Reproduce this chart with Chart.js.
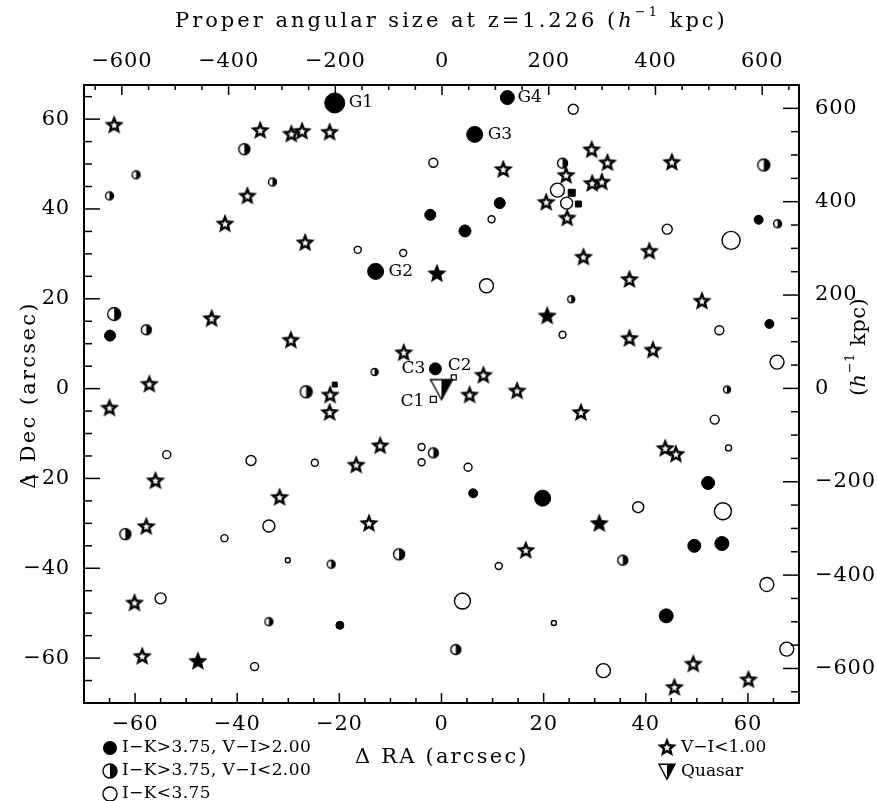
<!DOCTYPE html>
<html>
<head>
<meta charset="utf-8">
<script src="https://cdn.jsdelivr.net/npm/chart.js@4.4.0/dist/chart.umd.min.js"></script>
<style>
  body { margin: 0; background: #fff; }
  #wrap { width: 877px; height: 801px; }
</style>
</head>
<body>
<div id="wrap"><canvas id="graph"></canvas></div>
<script>
// I-K>3.75, V-I>2.00 (filled circles), diameters in px
var fillX = [-20.9, 12.9, 6.5, -12.9, -1.2, 11.4, -2.2, 4.6, -64.9, 62.1, 64.2, 6.2, 19.8, -19.9, 52.2, 49.5, 54.9, 44.0];
var fillY = [63.6, 64.8, 56.6, 26.1, 4.4, 41.3, 38.7, 35.1, 11.8, 37.6, 14.4, -23.3, -24.4, -52.7, -21.0, -35.0, -34.5, -50.6];
var fillD = [20, 14, 16, 16, 12, 11, 11, 12, 11, 9, 9, 9, 16, 8, 13, 13, 14, 14];

// I-K>3.75, V-I<2.00 (half filled)
var halfX = [-38.6, -59.8, -33.1, -65.0, -64.1, -57.8, -26.5, 23.7, 25.4, -13.1, 63.1, 65.8, 55.9, -1.6, -61.9, -21.6, -8.3, -33.8, 2.8, 35.5];
var halfY = [53.3, 47.6, 46.0, 42.9, 16.6, 13.1, -0.7, 50.2, 19.9, 3.7, 49.8, 36.7, -0.2, -14.3, -32.4, -39.1, -36.9, -51.9, -58.1, -38.2];
var halfD = [11, 8, 8, 8, 13, 10, 12, 10, 7, 7, 12, 8, 7, 10, 11, 8, 11, 8, 10, 10];

// I-K<3.75 (open circles)
var openX = [-1.6, 22.7, 24.5, 9.8, -16.4, -7.5, 8.8, 23.7, 25.8, 44.2, 56.7, 54.4, 65.7, -53.8, -37.3, -24.8, -33.8, -42.5, -30.1, -55.0, -36.6, -3.9, -3.9, 5.2, 11.2, 4.1, 22.0, 53.5, 56.2, 55.1, 38.5, 63.7, 67.6, 31.7];
var openY = [50.3, 44.2, 41.3, 37.7, 30.9, 30.2, 22.9, 12.0, 62.2, 35.5, 33.0, 13.0, 5.9, -14.7, -16.0, -16.5, -30.6, -33.3, -38.2, -46.7, -61.9, -13.0, -16.4, -17.5, -39.5, -47.3, -52.2, -6.9, -13.2, -27.3, -26.4, -43.6, -58.0, -62.8];
var openD = [9, 14, 12, 7, 7, 7, 14, 7, 10, 10, 18, 9, 14, 8, 10, 7, 12, 7, 5, 11, 8, 7, 7, 8, 7, 16, 5, 9, 6, 17, 11, 14, 14, 14];

// V-I<1.00 (stars)
var starX = [-64.1, -35.5, -29.4, -27.3, -21.9, -38.0, -42.4, -26.7, -45.0, -29.5, -57.2, -65.0, 12.1, 24.4, 20.5, 24.6, -7.4, 8.2, -21.8, -21.9, 5.5, 14.8, 29.4, 32.5, 45.1, 29.5, 31.4, 27.8, 40.7, 36.8, 51.0, 36.8, 41.4, -56.0, -31.7, -57.8, -60.1, -58.6, -12.0, -16.7, -14.2, 16.5, 27.3, 43.8, 45.9, 49.3, 45.6, 60.1];
var starY = [58.8, 57.6, 56.8, 57.4, 57.2, 43.0, 36.8, 32.6, 15.7, 10.9, 1.1, -4.2, 48.9, 47.6, 41.6, 38.1, 8.1, 3.1, -1.3, -5.2, -1.3, -0.4, 53.3, 50.4, 50.5, 45.8, 46.1, 29.4, 30.7, 24.4, 19.6, 11.3, 8.7, -20.4, -24.1, -30.6, -47.6, -59.5, -12.6, -16.9, -29.9, -35.9, -5.2, -13.2, -14.5, -61.2, -66.4, -64.7];
var fstarX = [-0.9, 20.7, -47.7, 30.9];
var fstarY = [25.7, 16.3, -60.6, -29.9];

// quasar and small squares
var qsoX = [0], qsoY = [0];
var sqX = [-1.6, 2.4], sqY = [-2.4, 2.5], sqS = [6, 5];
var fsqX = [25.5, 26.8, -20.9], fsqY = [43.6, 41.1, 0.9], fsqS = [7, 6, 5];

// object names: [text, set, index, dx, dy, align]
var names = [['G1', 'f', 0, 14, 0, 'left'], ['G4', 'f', 1, 10, 0, 'left'], ['G3', 'f', 2, 13, 0, 'left'],
             ['G2', 'f', 3, 13, 0, 'left'], ['C3', 'f', 4, -10, 0, 'right'], ['C2', 's', 1, -6, -12, 'left'],
             ['C1', 's', 0, -9, 2, 'right']];

var F = 'DejaVu Serif';

function mk(w, h, f) {
  var cv = document.createElement('canvas');
  cv.width = w; cv.height = h;
  f(cv.getContext('2d'));
  return cv;
}
function halfDraw(g, cx, cy, r) {
  g.beginPath(); g.arc(cx, cy, r, 0, 2 * Math.PI); g.fillStyle = '#fff'; g.fill();
  g.beginPath(); g.arc(cx, cy, r, -Math.PI / 2, Math.PI / 2); g.closePath(); g.fillStyle = '#000'; g.fill();
  g.beginPath(); g.arc(cx, cy, r, 0, 2 * Math.PI); g.lineWidth = 1.4; g.strokeStyle = '#000'; g.stroke();
}
function halfImg(d) {
  var s = Math.ceil(d) + 5;
  return mk(s, s, function(g) { halfDraw(g, s / 2, s / 2, d / 2); });
}
function starPath(g, cx, cy, R, r) {
  g.beginPath();
  for (var i = 0; i < 10; i++) {
    var a = -Math.PI / 2 + i * Math.PI / 5, rr = i % 2 ? r : R;
    g.lineTo(cx + rr * Math.cos(a), cy + rr * Math.sin(a));
  }
  g.closePath();
}
function starDraw(g, cx, cy, filled) {
  starPath(g, cx, cy + 0.8, 7, 3.1);
  g.fillStyle = filled ? '#000' : '#fff';
  g.fill();
  g.lineWidth = 2.4; g.lineJoin = 'miter'; g.strokeStyle = '#000';
  g.stroke();
}
function triDraw(g, cx, cy, w, h) {
  var t = cy - h * 0.45, b = cy + h * 0.55;
  g.beginPath(); g.moveTo(cx - w / 2, t); g.lineTo(cx + w / 2, t); g.lineTo(cx, b); g.closePath();
  g.fillStyle = '#fff'; g.fill();
  g.beginPath(); g.moveTo(cx, t); g.lineTo(cx + w / 2, t); g.lineTo(cx, b); g.closePath();
  g.fillStyle = '#000'; g.fill();
  g.beginPath(); g.moveTo(cx - w / 2, t); g.lineTo(cx + w / 2, t); g.lineTo(cx, b); g.closePath();
  g.lineWidth = 1.4; g.strokeStyle = '#000'; g.stroke();
}
var openStar = mk(22, 22, function(g) { starDraw(g, 11, 11, false); });
var fullStar = mk(22, 22, function(g) { starDraw(g, 11, 11, true); });
var qsoImg = mk(28, 26, function(g) { triDraw(g, 14, 13, 22, 20); });

function pts(xs, ys) { return xs.map(function(x, i) { return {x: x, y: ys[i]}; }); }

var majorEvery = {x: 20, y: 20, x2: 200, y2: 200};
var tickLen = {x: [10, 5], x2: [10, 5], y: [16, 8], y2: [16, 8]};

// wider glyph spacing for the tick labels, like the original plot font
var spacing = {
  id: 'spacing',
  beforeDraw: function(chart) { chart.ctx.letterSpacing = '0.8px'; }
};

var inTicks = {
  id: 'inTicks',
  afterDraw: function(chart) {
    var c = chart.ctx, a = chart.chartArea;
    c.save();
    c.strokeStyle = '#000';
    c.lineWidth = 1.5;
    Object.keys(majorEvery).forEach(function(id) {
      var s = chart.scales[id];
      s.ticks.forEach(function(t) {
        var v = t.value, p = s.getPixelForValue(v);
        var m = Math.abs(v / majorEvery[id] - Math.round(v / majorEvery[id])) < 1e-6;
        var L = m ? tickLen[id][0] : tickLen[id][1];
        c.beginPath();
        if (id === 'x') { c.moveTo(p, a.bottom); c.lineTo(p, a.bottom - L); }
        if (id === 'x2') { c.moveTo(p, a.top); c.lineTo(p, a.top + L); }
        if (id === 'y') { c.moveTo(a.left, p); c.lineTo(a.left + L, p); }
        if (id === 'y2') { c.moveTo(a.right, p); c.lineTo(a.right - L, p); }
        c.stroke();
      });
    });
    c.restore();
  }
};

function rich(c, segs, x, y, align, ls) {
  c.letterSpacing = (ls || 0) + 'px';
  var w = 0;
  segs.forEach(function(s) { c.font = s[1]; w += c.measureText(s[0]).width; });
  var cx = align === 'center' ? x - w / 2 : x;
  segs.forEach(function(s) {
    c.font = s[1];
    c.fillText(s[0], cx, y + (s[2] || 0));
    cx += c.measureText(s[0]).width;
  });
}

var texts = {
  id: 'texts',
  afterDraw: function(chart) {
    var c = chart.ctx, sx = chart.scales.x, sy = chart.scales.y;
    var f21 = '21px ' + F, fi = 'italic 21px ' + F, fs = '13px ' + F;
    c.save();
    c.fillStyle = '#000';
    c.textBaseline = 'middle';
    c.textAlign = 'left';
    rich(c, [['Proper angular size at z=1.226 (', f21], ['h', fi], ['\u22121', fs, -9], [' kpc)', f21]], 175, 22, 'left', 3);
    rich(c, [['\u0394 RA (arcsec)', f21]], 355, 758, 'left', 2.2);

    c.save(); c.translate(30, 395); c.rotate(-Math.PI / 2);
    rich(c, [['\u0394 Dec (arcsec)', f21]], 0, 0, 'center', 2.3);
    c.restore();
    c.save(); c.translate(860, 347); c.rotate(-Math.PI / 2);
    rich(c, [['(', f21], ['h', fi], ['\u22121', fs, -9], [' kpc)', f21]], 0, 0, 'center', 0.5);
    c.restore();

    // object names
    c.letterSpacing = '0px';
    c.font = '17px ' + F;
    names.forEach(function(n) {
      var px = n[1] === 'f' ? fillX[n[2]] : sqX[n[2]];
      var py = n[1] === 'f' ? fillY[n[2]] : sqY[n[2]];
      c.textAlign = n[5];
      c.fillText(n[0], sx.getPixelForValue(px) + n[3], sy.getPixelForValue(py) + n[4]);
    });

    // key
    c.textAlign = 'left';
    c.letterSpacing = '0.4px';
    c.font = '17px ' + F;
    c.beginPath(); c.arc(110, 748, 7, 0, 2 * Math.PI); c.fill();
    c.fillText('I\u2212K>3.75, V\u2212I>2.00', 122, 748);
    halfDraw(c, 110, 771, 7);
    c.fillStyle = '#000';
    c.fillText('I\u2212K>3.75, V\u2212I<2.00', 122, 771);
    c.beginPath(); c.arc(110, 794, 7, 0, 2 * Math.PI); c.lineWidth = 1.4; c.stroke();
    c.fillText('I\u2212K<3.75', 122, 794);
    c.letterSpacing = '0px';
    starDraw(c, 667, 747, false);
    c.fillStyle = '#000';
    c.fillText('V\u2212I<1.00', 681, 748);
    triDraw(c, 667, 771, 16, 15);
    c.fillStyle = '#000';
    c.fillText('Quasar', 681, 772);
    c.restore();
  }
};

function fmt(step) {
  return function(v) {
    return Math.abs(v % step) < 1e-6 ? String(v).replace('-', '\u2212') : '';
  };
}
function axis(pos, min, max, step, major, size, pad) {
  return {
    type: 'linear', position: pos, min: min, max: max,
    grid: {display: false, drawTicks: false},
    border: {display: true, color: '#000', width: 2},
    ticks: {stepSize: step, includeBounds: false, autoSkip: false, maxTicksLimit: 200, maxRotation: 0,
            padding: pad, color: '#000', font: {family: F, size: 21}, callback: fmt(major)},
    afterFit: function(s) { if (pos === 'top' || pos === 'bottom') s.height = size; else s.width = size; }
  };
}

new Chart(document.getElementById('graph'), {
  type: 'scatter',
  data: {
    datasets: [
      {data: pts(qsoX, qsoY), pointStyle: qsoImg, pointRadius: 6},
      {data: pts(fillX, fillY), pointStyle: 'circle', pointRadius: fillD.map(function(d) { return d / 2; }),
       backgroundColor: '#000', borderColor: '#000', borderWidth: 1},
      {data: pts(halfX, halfY), pointStyle: halfD.map(halfImg), pointRadius: 5},
      {data: pts(openX, openY), pointStyle: 'circle', pointRadius: openD.map(function(d) { return d / 2; }),
       backgroundColor: '#fff', borderColor: '#000', borderWidth: 1.4},
      {data: pts(starX, starY), pointStyle: openStar, pointRadius: 6},
      {data: pts(fstarX, fstarY), pointStyle: fullStar, pointRadius: 6},
      {data: pts(sqX, sqY), pointStyle: 'rect', pointRadius: sqS.map(function(s) { return s / Math.SQRT2; }),
       backgroundColor: '#fff', borderColor: '#000', borderWidth: 1.2},
      {data: pts(fsqX, fsqY), pointStyle: 'rect', pointRadius: fsqS.map(function(s) { return s / Math.SQRT2; }),
       backgroundColor: '#000', borderColor: '#000', borderWidth: 1}
    ]
  },
  options: {
    responsive: true,
    maintainAspectRatio: false,
    animation: false,
    events: [],
    layout: {padding: 0},
    plugins: {legend: {display: false}, tooltip: {enabled: false}},
    scales: {
      x: axis('bottom', -70, 70, 5, 20, 98, 9),
      x2: axis('top', -671, 669, 50, 200, 85, 11),
      y: axis('left', -70, 67.6, 5, 20, 84, 14),
      y2: axis('right', -674, 650, 50, 200, 78, 16)
    }
  },
  plugins: [spacing, inTicks, texts]
});
</script>
</body>
</html>
